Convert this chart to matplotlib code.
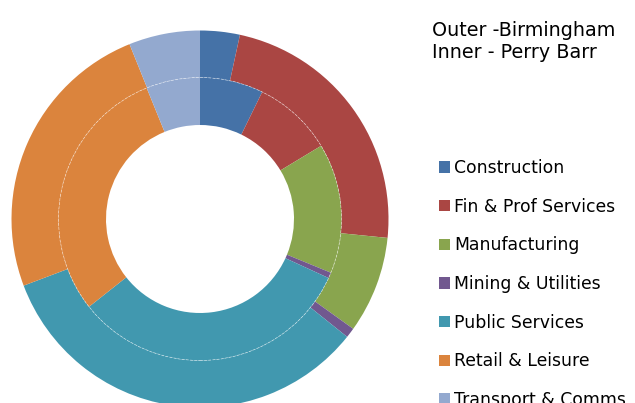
import matplotlib
matplotlib.use("Agg")
import matplotlib.pyplot as plt
from matplotlib.patches import Circle

categories = ["Construction", "Fin & Prof Services", "Manufacturing",
              "Mining & Utilities", "Public Services", "Retail & Leisure",
              "Transport & Comms"]
birmingham = [3.4, 23.2, 8.3, 0.85, 33.5, 24.65, 6.1]   # outer ring
perry_barr = [7.25, 9.1, 14.85, 0.65, 32.5, 29.5, 6.15]  # inner ring
colors = ["#4572A7", "#AA4643", "#89A54E", "#71588F", "#4198AF", "#DB843D", "#93A9CF"]
title_lines = ["Outer -Birmingham", "Inner - Perry Barr"]

W, H = 635, 403
fig = plt.figure(figsize=(W / 100, H / 100), dpi=100)
ax = fig.add_axes([0, 0, 1, 1])

cx, cy = 200, H - 219
r_out, r_mid, r_in = 188.5, 141.5, 94

wedges, _ = ax.pie(birmingham, colors=colors, radius=r_out, center=(cx, cy),
                   startangle=90, counterclock=False,
                   wedgeprops=dict(width=r_out - r_mid, linewidth=0))
ax.pie(perry_barr, colors=colors, radius=r_mid, center=(cx, cy),
       startangle=90, counterclock=False,
       wedgeprops=dict(width=r_mid - r_in, linewidth=0))
ax.add_patch(Circle((cx, cy), r_mid, fill=False, edgecolor="white",
                    linewidth=0.5, alpha=0.6, linestyle=(0, (4, 2))))

ax.set_xlim(0, W)
ax.set_ylim(0, H)
ax.set_aspect("equal")
ax.axis("off")

fig.text(432 / W, 1 - 35.5 / H, title_lines[0], fontsize=13.8, va="baseline", ha="left")
fig.text(432 / W, 1 - 57.5 / H, title_lines[1], fontsize=13.8, va="baseline", ha="left")

leg = fig.legend(wedges, categories, loc="upper left",
                 bbox_to_anchor=(439 / W, 1 - 159 / H), frameon=False,
                 fontsize=12.4, handlelength=0.65, handleheight=0.65,
                 handletextpad=0.25, labelspacing=1.2, borderpad=0,
                 borderaxespad=0)

fig.savefig("out.png", dpi=100)
